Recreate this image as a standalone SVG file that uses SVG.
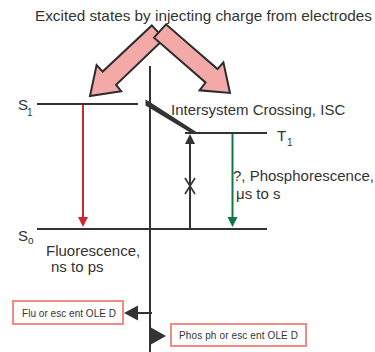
<svg xmlns="http://www.w3.org/2000/svg" width="375" height="352" viewBox="0 0 375 352">
<style>
  text { font-family: "Liberation Sans", Arial, sans-serif; fill: #333; }
  .lbl { font-size: 15px; }
  .sub { font-size: 10px; }
  .small { font-size: 10px; }
  .lvl { stroke: #333; stroke-width: 2.2; fill: none; }
  .axis { stroke: #333; stroke-width: 2; fill: none; }
  .big { fill: #f4a9a9; stroke: #2b2b2b; stroke-width: 2; stroke-linejoin: miter; }
  .box { fill: #fff; stroke: #f08a84; stroke-width: 2; }
</style>
<defs>
  <marker id="hRed" markerUnits="userSpaceOnUse" markerWidth="10" markerHeight="12" refX="1" refY="5" orient="auto" viewBox="0 0 10 10">
    <path d="M0,0 L10,5 L0,10 z" fill="#d3262c"/>
  </marker>
  <marker id="hGreen" markerUnits="userSpaceOnUse" markerWidth="10" markerHeight="12" refX="1" refY="5" orient="auto" viewBox="0 0 10 10">
    <path d="M0,0 L10,5 L0,10 z" fill="#127646"/>
  </marker>
  <marker id="hBlack" markerUnits="userSpaceOnUse" markerWidth="10" markerHeight="10" refX="1" refY="5" orient="auto" viewBox="0 0 10 10">
    <path d="M0,0 L10,5 L0,10 z" fill="#333"/>
  </marker>
</defs>

<text id="title" class="lbl" x="35" y="21" textLength="337" lengthAdjust="spacingAndGlyphs">Excited states by injecting charge from electrodes</text>

<g id="connectors">
  <!-- central axis -->
  <line class="axis" x1="150" y1="66" x2="150" y2="352"/>
  <!-- big pink arrows -->
  <polygon class="big" points="151.8,25.4 164.2,38.6 116.1,84.8 121.2,91.3 90,96 96.6,65.1 102.7,71.6"/>
  <polygon class="big" points="166,24.3 154,37.7 205.5,82.5 199.6,90.3 230,93 223.4,62.3 217.5,69.1"/>
  <!-- ISC wedge -->
  <polygon points="145.5,99.5 149,101.5 198,133 191,133 145.5,105.5" fill="#333"/>
  <!-- fluorescence -->
  <line x1="83" y1="105" x2="83" y2="218" stroke="#d3262c" stroke-width="2" marker-end="url(#hRed)"/>
  <!-- phosphorescence -->
  <line x1="232.5" y1="134" x2="232.5" y2="218" stroke="#127646" stroke-width="2" marker-end="url(#hGreen)"/>
  <!-- forbidden excitation -->
  <line x1="190" y1="229" x2="190" y2="143" stroke="#333" stroke-width="2" marker-end="url(#hBlack)"/>
  <path d="M185,178 L195,194 M195,178 L185,194" stroke="#333" stroke-width="1.6" fill="none"/>
  <!-- OLED pointers -->
  <line x1="152" y1="313" x2="138" y2="313" stroke="#333" stroke-width="2"/>
  <polygon points="124,313 138,305.5 138,320.5" fill="#333"/>
  <polygon points="150,327 166,336 150,345" fill="#333"/>
</g>

<g id="S1">
  <line class="lvl" x1="37" y1="104" x2="138" y2="104"/>
  <text class="lbl" x="18" y="110">S</text>
  <text class="sub" x="27" y="116">1</text>
</g>

<g id="T1">
  <line class="lvl" x1="185" y1="133" x2="267" y2="133"/>
  <text class="lbl" x="277" y="141">T</text>
  <text class="sub" x="287" y="146">1</text>
</g>

<g id="S0">
  <line class="lvl" x1="37" y1="229" x2="267" y2="229"/>
  <text class="lbl" x="18" y="241">S</text>
  <text class="sub" x="28" y="244">o</text>
</g>

<g id="isc-label">
  <text class="lbl" x="171" y="115">Intersystem Crossing, ISC</text>
</g>

<g id="phos-label">
  <text class="lbl" x="233" y="181">?, Phosphorescence,</text>
  <text class="lbl" x="236" y="199">μs to s</text>
</g>

<g id="fluo-label">
  <text class="lbl" x="46" y="256">Fluorescence,</text>
  <text class="lbl" x="51" y="272">ns to ps</text>
</g>

<g id="fluorescent-oled">
  <rect class="box" x="13" y="301" width="110" height="23"/>
  <text class="small" x="22" y="317" textLength="94" lengthAdjust="spacing">Flu or esc ent  OLE D</text>
</g>

<g id="phosphorescent-oled">
  <rect class="box" x="171" y="324" width="135" height="22"/>
  <text class="small" x="179" y="339" textLength="119" lengthAdjust="spacing">Phos ph or esc ent  OLE D</text>
</g>
</svg>
